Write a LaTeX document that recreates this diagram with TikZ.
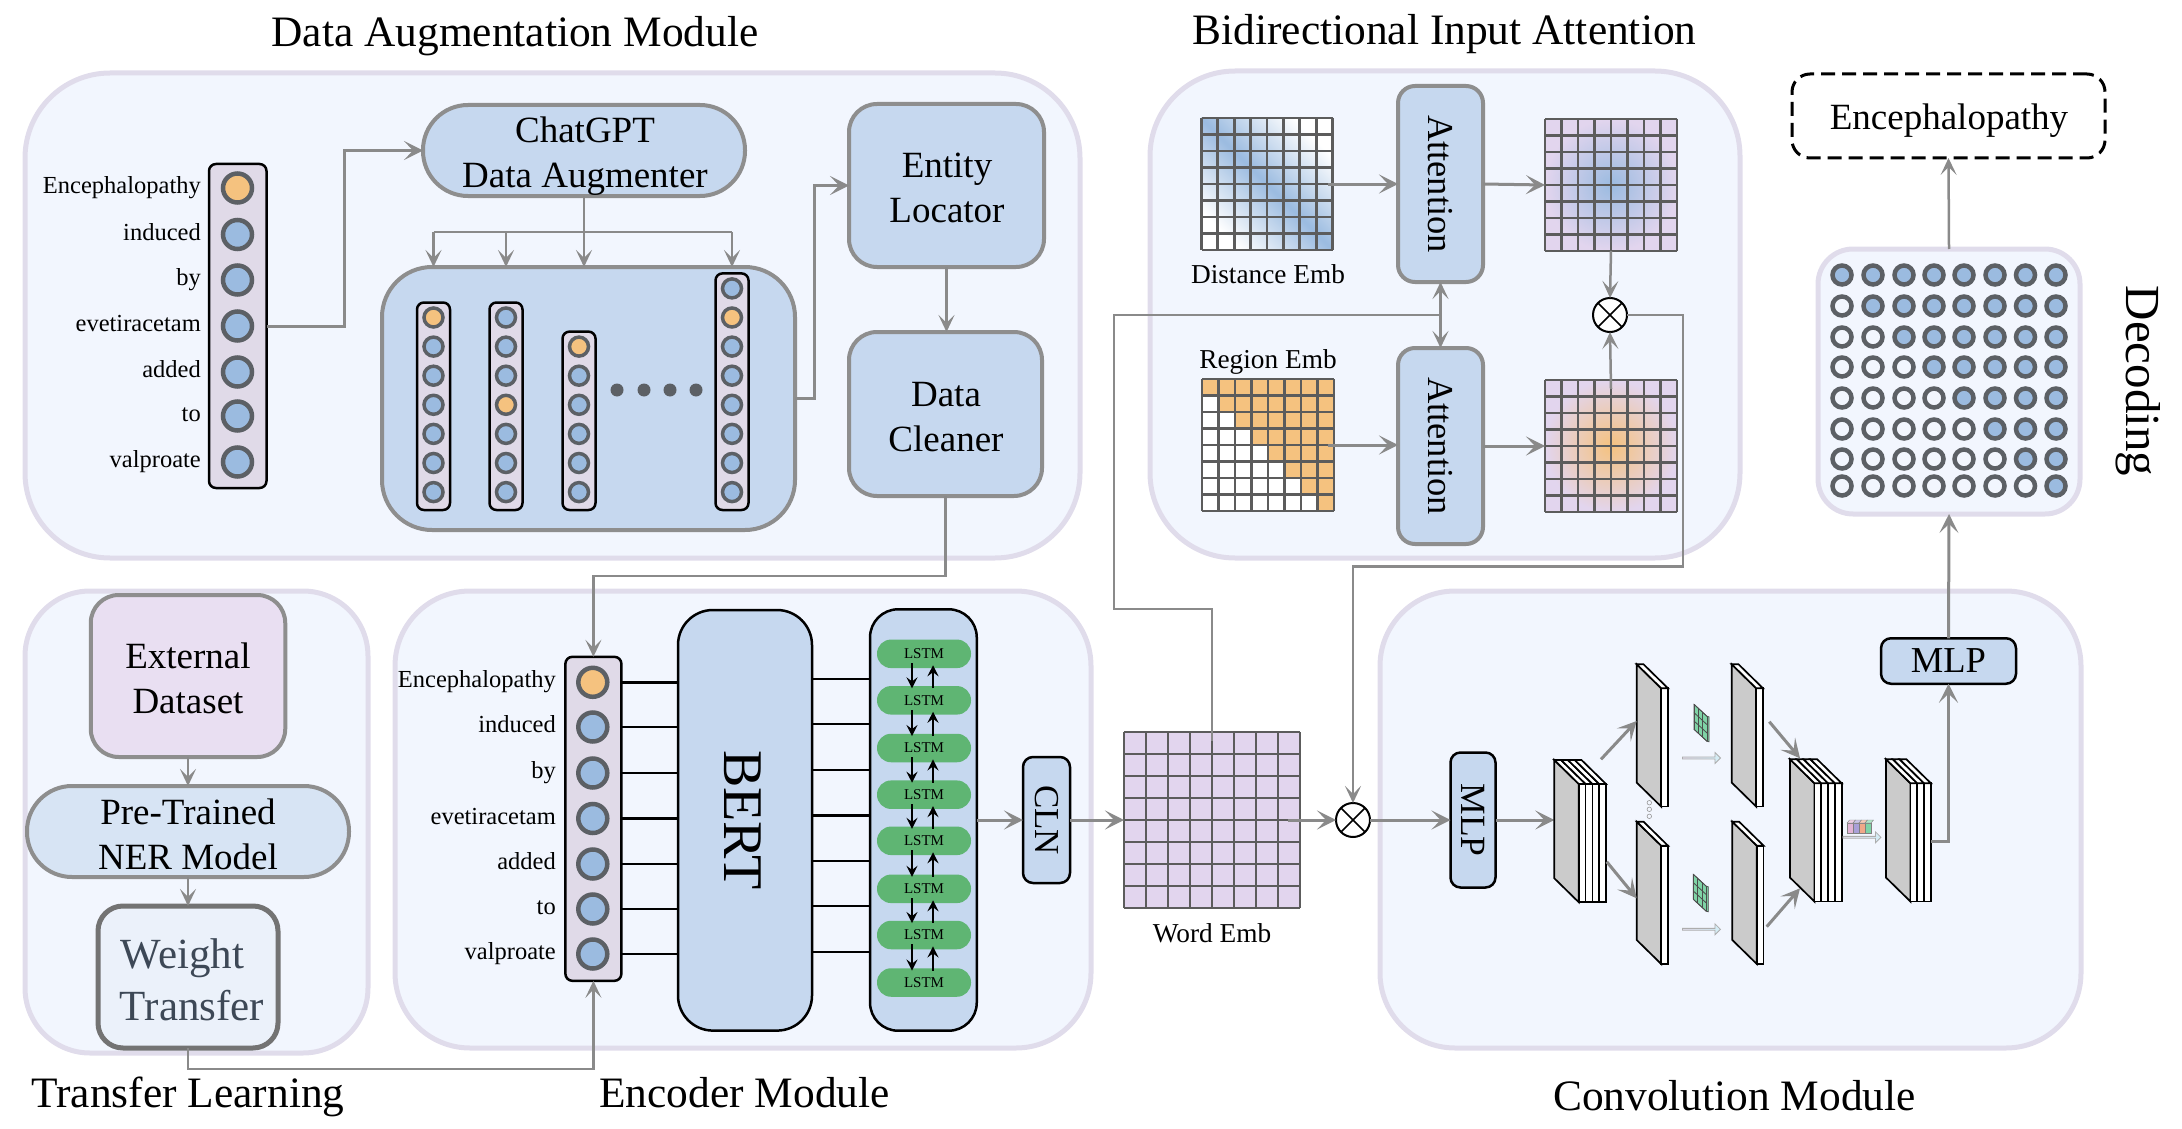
\documentclass[tikz,border=0pt]{standalone}
\usepackage{fontspec}
\setmainfont{Liberation Serif}
\usetikzlibrary{arrows.meta,calc,shapes.arrows}
\definecolor{panelfill}{HTML}{F2F6FE}
\definecolor{paneledge}{HTML}{E0DCEB}
\definecolor{boxblue}{HTML}{C6D8EF}
\definecolor{boxgray}{HTML}{8E8E8E}
\definecolor{tokblue}{HTML}{9BBBE0}
\definecolor{tokorange}{HTML}{F5C27F}
\definecolor{tokedge}{HTML}{5C6065}
\definecolor{barfill}{HTML}{E0DAE8}
\definecolor{lstmgreen}{HTML}{5FB573}
\definecolor{wordpurple}{HTML}{E2D5EE}
\definecolor{linegray}{HTML}{8A8A8A}
\definecolor{gridgray}{HTML}{5C5C5C}
\definecolor{convgray}{HTML}{CBCBCB}
\definecolor{kerngreen}{HTML}{7FD3A6}
\definecolor{softcyan}{HTML}{D3EEF6}
\definecolor{cubepink}{HTML}{E2B4D6}
\definecolor{cubeviolet}{HTML}{A9A0D8}
\definecolor{cubeorange}{HTML}{F0A888}
\definecolor{weightfill}{HTML}{EBF1FA}
\definecolor{weightink}{HTML}{3D4856}
\tikzset{
  panel/.style={draw=paneledge,line width=5pt,fill=panelfill,rounded corners=#1,outer sep=0pt},
  blockbox/.style={draw=boxgray,line width=4pt,fill=boxblue,rounded corners=#1,align=center,inner sep=0pt,outer sep=0pt},
  blackbox/.style={draw=black,line width=2.5pt,fill=boxblue,rounded corners=#1,align=center,inner sep=0pt,outer sep=0pt},
  tokenbar/.style={draw=black,line width=2.5pt,fill=barfill,rounded corners=7pt,inner sep=0pt,outer sep=0pt},
  bigdot/.style={circle,draw=tokedge,line width=4.5pt,minimum size=29pt,inner sep=0pt},
  minidot/.style={circle,draw=tokedge,line width=3.5pt,minimum size=19pt,inner sep=0pt},
  decdot/.style={circle,draw=tokedge,line width=4.5pt,minimum size=19pt,inner sep=0pt},
  tokenlabel/.style={anchor=base east,font=\fontsize{24.5}{28}\selectfont,inner sep=0pt},
  boxtext/.style={align=center,inner sep=0pt,font=\fontsize{37}{45}\selectfont},
  modtitle/.style={font=\fontsize{43.4}{50}\selectfont,inner sep=0pt},
  embtext/.style={font=\fontsize{27.3}{32}\selectfont,inner sep=0pt},
  embbox/.style={rectangle,minimum width=#1,minimum height=132pt,inner sep=0pt,outer sep=0pt},
  gridline/.style={draw=gridgray,line width=2.8pt},
  mulnode/.style={circle,draw=black,line width=2pt,fill=white,minimum size=34pt,inner sep=0pt,outer sep=0pt},
  lstmpill/.style={fill=lstmgreen,rounded corners=14pt,minimum width=94pt,minimum height=28.5pt,inner sep=0pt,font=\fontsize{15}{18}\selectfont},
  flowline/.style={draw=linegray,line width=3pt,-{Stealth[length=19pt,width=19pt,inset=9pt]}},
  flowthin/.style={draw=linegray,line width=2.5pt,-{Stealth[length=17pt,width=16pt,inset=8pt]}},
  plainflow/.style={draw=linegray,line width=2.5pt},
  blacklink/.style={draw=black,line width=2.5pt},
  lstmarrow/.style={draw=black,line width=2.5pt,-{Stealth[length=11pt,width=11pt,inset=4pt]}},
  convedge/.style={draw=black,line width=1.7pt,line join=miter},
  softarrow/.style={single arrow,draw=linegray!70,line width=.8pt,left color=barfill,right color=softcyan,minimum height=38pt,minimum width=11pt,single arrow head extend=2pt,inner sep=0pt}
}
\newcommand{\embgrid}[1]{%
  \foreach \k in {0,...,8}{
    \draw[gridline] ($(#1.north west)!\k/8!(#1.north east)$) -- ($(#1.south west)!\k/8!(#1.south east)$);
    \draw[gridline] ($(#1.north west)!\k/8!(#1.south west)$) -- ($(#1.north east)!\k/8!(#1.south east)$);
  }}
\newcommand{\tokencol}[4]{%
  \pgfmathsetmacro{\bartop}{317.5+29.1*#3-15}
  \node[tokenbar,minimum width=33pt,minimum height={(510-\bartop)*1pt}] (#1) at (#2,{(510+\bartop)/2}) {};
  \foreach \k in {#3,...,6}{
    \ifnum\k=#4 \def\dotcol{tokorange}\else\def\dotcol{tokblue}\fi
    \node[minidot,fill=\dotcol] (#1-\k) at (#2,{317.5+29.1*\k}) {};
  }}
\newcommand{\convblock}[3]{%
  \begin{scope}[shift={(#1,#2)}]
    \filldraw[convedge,fill=convgray] (0,0) -- (24.5,24) -- (24.5,142.3) -- (0,118.3) -- cycle;
    \foreach \k in {1,...,#3}{
      \filldraw[convedge,fill=white] ({24.5+(\k-1)*6.8},24) rectangle ({24.5+\k*6.8},142.3);
      \filldraw[convedge,fill=white] ({(\k-1)*6.8},0) -- ({\k*6.8},0) -- ({24.5+\k*6.8},24) -- ({24.5+(\k-1)*6.8},24) -- cycle;
    }
  \end{scope}}
\newcommand{\kernelpatch}[2]{%
  \begin{scope}[shift={(#1,#2)}]
    \filldraw[draw=black!70,line width=.7pt,fill=kerngreen] (0,0) -- (13,12) -- (15,12.5) -- (15,37.5) -- (13,37) -- (0,25) -- cycle;
    \foreach \k in {0,1,2,3}{
      \draw[black!70,line width=.8pt] ({\k*13/3},{\k*4}) -- ++(0,25);
      \draw[black!70,line width=.8pt] (0,{\k*25/3}) -- ++(13,12);
    }
  \end{scope}}
\begin{document}
\begin{tikzpicture}[x=1pt,y=-1pt]
  \useasboundingbox (0,0) rectangle (2182,1129);
  \node[panel=85pt,minimum width=1055pt,minimum height=485pt] (dataaug) at (552.5,315.5) {};
  \node[panel=65pt,minimum width=343pt,minimum height=462pt] (transfer) at (196.5,822) {};
  \node[panel=75pt,minimum width=696pt,minimum height=457pt] (encoder) at (743,819.5) {};
  \node[panel=85pt,minimum width=590pt,minimum height=487pt] (biattn) at (1445,314.5) {};
  \node[panel=75pt,minimum width=701pt,minimum height=457pt] (convmod) at (1730.5,819.5) {};
  \node[panel=35pt,minimum width=262pt,minimum height=265pt] (decoding) at (1949,381.5) {};

  \node[modtitle] (augtitle) at (515,36) {Data Augmentation Module};
  \node[modtitle] (bititle) at (1444.5,34) {Bidirectional Input Attention};
  \node[modtitle] (transtitle) at (188,1097) {Transfer Learning};
  \node[modtitle] (enctitle) at (744.5,1093) {Encoder Module};
  \node[modtitle] (convtitle) at (1734.5,1096) {Convolution Module};
  \node[modtitle,font=\fontsize{49}{52}\selectfont,rotate=-90] (dectitle) at (2138,381) {Decoding};

  \node[tokenbar,minimum width=57.5pt,minimum height=324pt] (augbar) at (237.75,326) {};
  \foreach \yy/\col/\txt [count=\n] in {188/tokorange/Encephalopathy,234.5/tokblue/induced,280/tokblue/by,326/tokblue/evetiracetam,372/tokblue/added,416/tokblue/to,462/tokblue/valproate}{
    \node[bigdot,fill=\col] (a\n) at (237.5,\yy) {};
    \node[tokenlabel] (alab\n) at (201,\yy+5.5) {\txt};
  }

  \node[blockbox=45pt,minimum width=322pt,minimum height=91pt] (chatgpt) at (584,150.5) {};
  \node[boxtext] (chatgpttext) at (585,156) {ChatGPT\\Data Augmenter};
  \node[blockbox=28pt,minimum width=195pt,minimum height=163pt] (entity) at (946.5,185.5) {};
  \node[boxtext] (entitytext) at (947,188) {Entity\\Locator};
  \node[blockbox=28pt,minimum width=193pt,minimum height=164pt] (cleaner) at (945.5,414) {};
  \node[boxtext] (cleanertext) at (946,417) {Data\\Cleaner};
  \node[blockbox=50pt,minimum width=413pt,minimum height=263pt] (augpanel) at (588.5,398.5) {};
  \tokencol{col1}{433.5}{0}{0}
  \tokencol{col2}{506}{0}{3}
  \tokencol{col3}{579}{1}{1}
  \tokencol{col4}{732}{-1}{0}
  \foreach \xx [count=\n] in {617,644,670,696}
    \node[circle,fill=tokedge,minimum size=13pt,inner sep=0pt] (more\n) at (\xx,390) {};

  \draw[flowline] (a4 -| augbar.east) -- ++(77.5,0) |- (chatgpt.west);
  \coordinate (bus) at (584,232);
  \draw[plainflow] (chatgpt.south) -- (bus);
  \draw[plainflow] (bus -| col1) -- (bus -| col4);
  \foreach \c in {col1,col2,chatgpt,col4}
    \draw[flowthin] (bus -| \c) -- (augpanel.north -| \c);
  \draw[flowline] (augpanel.east) -- ++(19,0) |- (entity.west);
  \draw[flowthin] (entity.south) -- (entity.south |- cleaner.north);

  \node[blockbox=28pt,fill=wordpurple!75,minimum width=194.5pt,minimum height=162pt] (external) at (188,676) {};
  \node[boxtext] (externaltext) at (188,678) {External\\Dataset};
  \node[blockbox=45pt,fill=boxblue!70,minimum width=322pt,minimum height=91pt] (pretrained) at (188,831.5) {};
  \node[boxtext] (pretrainedtext) at (188,834) {Pre-Trained\\NER Model};
  \node[blockbox=25pt,draw=black!55,line width=5pt,fill=weightfill,minimum width=180pt,minimum height=142pt] (weight) at (188,977) {};
  \node[boxtext,text=weightink,font=\fontsize{43}{52}\selectfont] (weighttext) at (188,980) {Weight\hspace*{11pt}\\\hspace*{8pt}Transfer};
  \draw[flowthin] (external.south) -- (pretrained.north);
  \draw[flowthin] (pretrained.south) -- (weight.north);

  \node[tokenbar,minimum width=56pt,minimum height=324pt] (encbar) at (593.4,818.8) {};
  \node[blackbox=35pt,minimum width=134pt,minimum height=420.6pt] (bert) at (745,820.3) {};
  \node[rotate=-90,font=\fontsize{56}{60}\selectfont] (berttext) at (743,820) {BERT};
  \node[blackbox=28pt,minimum width=106.7pt,minimum height=421.4pt] (lstmbox) at (923.4,820) {};
  \foreach \yy/\col/\txt [count=\n] in {682.3/tokorange/Encephalopathy,727/tokblue/induced,773/tokblue/by,818.5/tokblue/evetiracetam,864/tokblue/added,909/tokblue/to,954/tokblue/valproate}{
    \node[bigdot,fill=\col] (e\n) at (592.8,\yy) {};
    \node[tokenlabel] (elab\n) at (556,\yy+5.5) {\txt};
    \draw[blacklink] (e\n -| encbar.east) -- (e\n -| bert.west);
  }
  \foreach \yy [count=\n] in {679,724,770,815.6,861,906,952}{
    \coordinate (bo\n) at (812,\yy);
    \draw[blacklink] (bo\n) -- (bo\n -| lstmbox.west);
  }
  \foreach \yy [count=\n] in {653.8,700.3,748,794.7,840.8,888.8,935,982.5}
    \node[lstmpill] (lstm\n) at (924,\yy) {LSTM};
  \foreach \n [evaluate=\n as \m using int(\n+1)] in {1,...,7}{
    \draw[lstmarrow] ([xshift=-12pt,yshift=5pt]lstm\n.south) -- ([xshift=-12pt,yshift=-2.5pt]lstm\m.north);
    \draw[lstmarrow] ([xshift=9pt,yshift=-2.5pt]lstm\m.north) -- ([xshift=9pt,yshift=3pt]lstm\n.south);
  }
  \node[blackbox=10pt,minimum width=47pt,minimum height=126pt] (cln) at (1046.5,820) {};
  \node[rotate=-90,font=\fontsize{35}{38}\selectfont] (clntext) at (1046.5,820) {CLN};
  \draw[flowthin] (cleaner.south) -- ++(0,80) -| (encbar.north);
  \draw[flowthin] (weight.south) -- ++(0,21) -| (encbar.south);
  \draw[flowline] (lstmbox.east |- cln) -- (cln.west);

  \node[embbox=176pt,minimum height=176pt,fill=wordpurple] (wordemb) at (1212,820) {};
  \embgrid{wordemb}
  \node[embtext] (wordtext) at (1212,933) {Word Emb};
  \draw[flowline] (cln.east) -- (wordemb.west);

  \node[embbox=131pt,top color=white,bottom color=white,middle color=tokblue,shading angle=-45] (distemb) at (1267,184) {};
  \embgrid{distemb}
  \node[embtext] (disttext) at (1268,274.5) {Distance Emb};

  \node[embbox=132pt,fill=white] (regemb) at (1268,445) {};
  \foreach \i in {0,...,7}
    \foreach \j in {0,...,\i}
      \fill[tokorange] ($(regemb.north west)+(\i*16.5,\j*16.5)$) rectangle +(16.5,16.5);
  \embgrid{regemb}
  \node[embtext] (regtext) at (1268,362) {Region Emb};

  \node[blockbox=17pt,minimum width=85pt,minimum height=196pt] (attn1) at (1440.5,184) {};
  \node[rotate=-90,font=\fontsize{36.5}{40}\selectfont] (attntext1) at (1440.5,184) {Attention};
  \node[blockbox=17pt,minimum width=85pt,minimum height=196pt] (attn2) at (1440.5,446) {};
  \node[rotate=-90,font=\fontsize{36.5}{40}\selectfont] (attntext2) at (1440.5,446) {Attention};

  \node[embbox=132pt,inner color=tokblue,outer color=wordpurple] (bluemap) at (1611,185) {};
  \embgrid{bluemap}
  \node[embbox=132pt,inner color=tokorange,outer color=wordpurple] (orangemap) at (1611,446) {};
  \embgrid{orangemap}

  \node[mulnode] (mul2) at (1610,315) {};
  \draw[line width=1.5pt] (mul2.45) -- (mul2.225);
  \draw[line width=1.5pt] (mul2.135) -- (mul2.315);
  \node[mulnode] (mul1) at (1353,820) {};
  \draw[line width=1.5pt] (mul1.45) -- (mul1.225);
  \draw[line width=1.5pt] (mul1.135) -- (mul1.315);

  \draw[flowline] ([xshift=-5pt]distemb.east) -- (attn1.west);
  \draw[flowline] ([xshift=-6pt]regemb.east) -- (regemb.east -| attn2.west);
  \draw[flowline] (attn1.east) -- (bluemap.west);
  \draw[flowline] (attn2.east) -- (orangemap.west);
  \draw[flowthin] (bluemap.south) -- (mul2.north);
  \draw[flowthin] ([yshift=-9pt]orangemap.north) -- (mul2.south);
  \coordinate (wordturn) at (1114,609);
  \coordinate (attnjoin) at (1440.5,315);
  \draw[plainflow] ([yshift=-9pt]wordemb.north) |- (wordturn) |- (attnjoin);
  \draw[flowthin,{Stealth[length=17pt,width=16pt,inset=8pt]}-{Stealth[length=17pt,width=16pt,inset=8pt]}] (attn1.south) -- (attn2.north);
  \coordinate (mulcorner) at (1683,566.5);
  \draw[flowthin] (mul2.east) -| (mulcorner) -| (mul1.north);
  \draw[flowline] ([xshift=-12pt]wordemb.east) -- (mul1.west);

  \node[blackbox=10pt,minimum width=45pt,minimum height=135pt] (mlp1) at (1473,820) {};
  \node[rotate=-90,font=\fontsize{35.5}{38}\selectfont] (mlptext1) at (1473,820) {MLP};
  \draw[flowline] (mul1.east) -- (mlp1.west);
  \coordinate (blockin) at (1554.3,820);
  \draw[flowline] (mlp1.east) -- (blockin);

  \convblock{1554.3}{760}{4}
  \convblock{1636.7}{664.3}{1}
  \convblock{1731.7}{664.3}{1}
  \convblock{1636.7}{821.7}{1}
  \convblock{1732.3}{821.7}{1}
  \convblock{1790}{759.3}{4}
  \convblock{1886}{759.3}{3}
  \kernelpatch{1694}{704.3}
  \kernelpatch{1693.3}{874.3}
  \foreach \yy [count=\n] in {802.7,809.3,816.3}
    \node[circle,draw=black!40,line width=.6pt,minimum size=4.5pt,inner sep=0pt] (gap\n) at (1649.3,\yy) {};
  \node[softarrow] (soft1) at (1701,758) {};
  \node[softarrow] (soft2) at (1701,929.3) {};
  \node[softarrow] (soft3) at (1861.5,837.3) {};
  \foreach \xx/\col in {0/cubepink,1/cubeviolet,2/cubeorange,3/kerngreen}{
    \filldraw[draw=black!50,line width=.4pt,fill=\col] ({1847+\xx*6},823) rectangle +(6,10);
    \filldraw[draw=black!50,line width=.4pt,fill=\col!60!white] ({1847+\xx*6},823) -- ++(2.5,-3) -- ++(6,0) -- ++(-2.5,3) -- cycle;
  }
  \coordinate (b1up) at (1601,759.3);
  \coordinate (a1in) at (1636.7,721);
  \coordinate (b1down) at (1606.7,861.7);
  \coordinate (c1in) at (1636.7,898.3);
  \coordinate (a2out) at (1769.3,721.7);
  \coordinate (b2up) at (1800,758.3);
  \coordinate (c2out) at (1766.7,926.7);
  \coordinate (b2down) at (1800,888.3);
  \draw[flowline] (b1up) -- (a1in);
  \draw[flowline] (b1down) -- (c1in);
  \draw[flowline] (a2out) -- (b2up);
  \draw[flowline] (c2out) -- (b2down);

  \node[blackbox=10pt,font=\fontsize{36.5}{40}\selectfont,minimum width=135pt,minimum height=45.5pt] (mlp2) at (1948.5,661) {MLP};
  \coordinate (b3out) at (1931,841.7);
  \draw[flowline] (b3out) -| (mlp2.south);
  \draw[flowline] (mlp2.north) -- (decoding.south);

  \foreach \yy [count=\r] in {275,306,337,367,398,429,459,486}
    \foreach \xx [count=\c] in {1842,1873,1904,1934,1964,1995,2025.5,2056}{
      \ifnum\c<\r \def\dotcol{panelfill}\else\def\dotcol{tokblue}\fi
      \node[decdot,fill=\dotcol] (dec\r\c) at (\xx,\yy) {};
    }
  \node[draw=black,line width=3pt,dash pattern=on 14pt off 7pt,rounded corners=18pt,minimum width=313pt,minimum height=84pt,inner sep=0pt,outer sep=0pt] (answer) at (1948.5,116) {};
  \node[font=\fontsize{37}{40}\selectfont,inner sep=0pt] (answertext) at (1949,121) {Encephalopathy};
  \draw[flowthin] (decoding.north) -- (answer.south);
\end{tikzpicture}
\end{document}
